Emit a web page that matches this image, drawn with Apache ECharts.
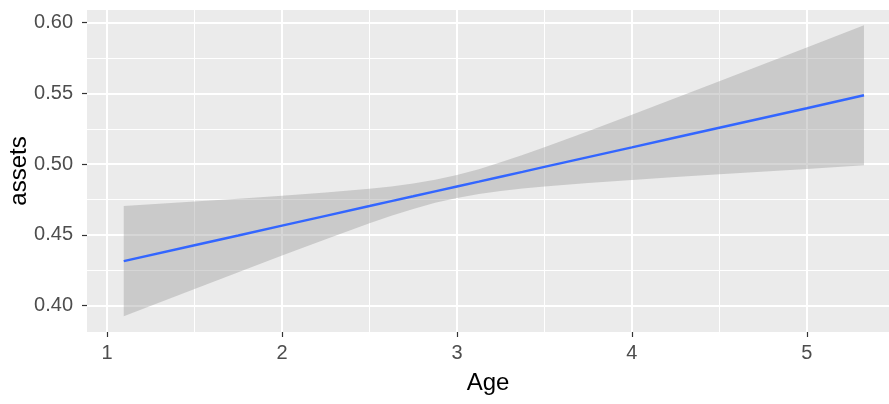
<!DOCTYPE html>
<html>
<head>
<meta charset="utf-8">
<script src="https://cdn.jsdelivr.net/npm/echarts@6/dist/echarts.min.js"></script>
<style>
  html, body { margin: 0; padding: 0; background: #ffffff; }
  #chart { width: 889px; height: 404px; }
</style>
</head>
<body>
<div id="chart"></div>
<script>
// Fitted linear trend of assets against Age, with its confidence band
const ageSamples = [1.095, 1.5, 1.75, 2.0, 2.25, 2.5, 2.625, 2.75, 2.875, 3.0, 3.125, 3.25, 3.375, 3.5, 3.75, 4.0, 4.25, 4.5, 5.0, 5.327];
const fitValues  = [0.4315, 0.4427, 0.4496, 0.4566, 0.4635, 0.4704, 0.4739, 0.4773, 0.4808, 0.4843, 0.4877, 0.4912, 0.4946, 0.4981, 0.5050, 0.5119, 0.5189, 0.5258, 0.5396, 0.5487];
const bandUpper  = [0.4705, 0.4736, 0.4756, 0.4777, 0.4800, 0.4826, 0.4843, 0.4863, 0.4890, 0.4924, 0.4965, 0.5013, 0.5065, 0.5120, 0.5233, 0.5349, 0.5468, 0.5587, 0.5825, 0.5982];
const bandLower  = [0.3925, 0.4118, 0.4237, 0.4355, 0.4470, 0.4582, 0.4635, 0.4683, 0.4727, 0.4762, 0.4789, 0.4811, 0.4828, 0.4842, 0.4867, 0.4889, 0.4910, 0.4929, 0.4967, 0.4992];

// Axis breaks
const xTicks      = [1, 2, 3, 4, 5];
const xMinorTicks = [1.5, 2.5, 3.5, 4.5];
const yTicks      = [0.40, 0.45, 0.50, 0.55, 0.60];
const yMinorTicks = [0.425, 0.475, 0.525, 0.575];
const xRange = [0.885, 5.47];
const yRange = [0.3814, 0.609];

const FONT = "'Liberation Sans', Arial, sans-serif";
const chart = echarts.init(document.getElementById('chart'), null, { renderer: 'canvas' });

function majorAxis(range, ticks, pos) {
  return {
    type: 'value', min: range[0], max: range[1], position: pos,
    axisLine: { show: false },
    axisTick: { show: true, length: 5, customValues: ticks, lineStyle: { color: '#333333', width: 1.2 } },
    splitLine: { show: true, lineStyle: { color: '#ffffff', width: 2 } },
    axisPointer: { show: false }
  };
}
function minorAxis(range, ticks, pos) {
  return {
    type: 'value', min: range[0], max: range[1], position: pos,
    axisLine: { show: false },
    axisTick: { show: false, customValues: ticks },
    axisLabel: { show: false },
    splitLine: { show: true, lineStyle: { color: '#ffffff', width: 1 } }
  };
}

const xMajor = majorAxis(xRange, xTicks, 'bottom');
xMajor.name = 'Age';
xMajor.nameLocation = 'middle';
xMajor.nameGap = 39;
xMajor.nameMoveOverlap = false;
xMajor.nameTextStyle = { fontFamily: FONT, fontSize: 24, color: '#000000' };
xMajor.axisLabel = { customValues: xTicks, margin: 11, fontFamily: FONT, fontSize: 20, color: '#4D4D4D',
                     formatter: v => String(v) };

const yMajor = majorAxis(yRange, yTicks, 'left');
yMajor.name = 'assets';
yMajor.nameLocation = 'middle';
yMajor.nameRotate = 90;
yMajor.nameGap = 56;
yMajor.nameMoveOverlap = false;
yMajor.nameTextStyle = { fontFamily: FONT, fontSize: 24, color: '#000000' };
yMajor.axisLabel = { customValues: yTicks, margin: 14, fontFamily: FONT, fontSize: 20, color: '#4D4D4D',
                     formatter: v => v.toFixed(2) };

const option = {
  animation: false,
  grid: {
    left: 87, right: 0, top: 10, bottom: 72,
    outerBoundsMode: 'none', containLabel: false,
    show: true, backgroundColor: '#EBEBEB', borderWidth: 0
  },
  xAxis: [minorAxis(xRange, xMinorTicks, 'bottom'), xMajor],
  yAxis: [minorAxis(yRange, yMinorTicks, 'left'), yMajor],
  series: [
    {
      name: 'band',
      type: 'custom',
      xAxisIndex: 1, yAxisIndex: 1,
      data: ageSamples.map((x, i) => [x, bandLower[i], bandUpper[i]]),
      encode: { x: 0, y: [1, 2] },
      renderItem: function (params, api) {
        if (params.dataIndex !== 0) return null;
        const pts = [];
        for (let i = 0; i < ageSamples.length; i++) pts.push(api.coord([ageSamples[i], bandUpper[i]]));
        for (let i = ageSamples.length - 1; i >= 0; i--) pts.push(api.coord([ageSamples[i], bandLower[i]]));
        return { type: 'polygon', shape: { points: pts }, style: { fill: 'rgba(153,153,153,0.4)' } };
      },
      z: 2
    },
    {
      name: 'fit',
      type: 'line',
      xAxisIndex: 1, yAxisIndex: 1,
      data: ageSamples.map((x, i) => [x, fitValues[i]]),
      showSymbol: false,
      lineStyle: { color: '#3366FF', width: 2.5 },
      z: 3
    }
  ]
};
chart.setOption(option);
</script>
</body>
</html>
